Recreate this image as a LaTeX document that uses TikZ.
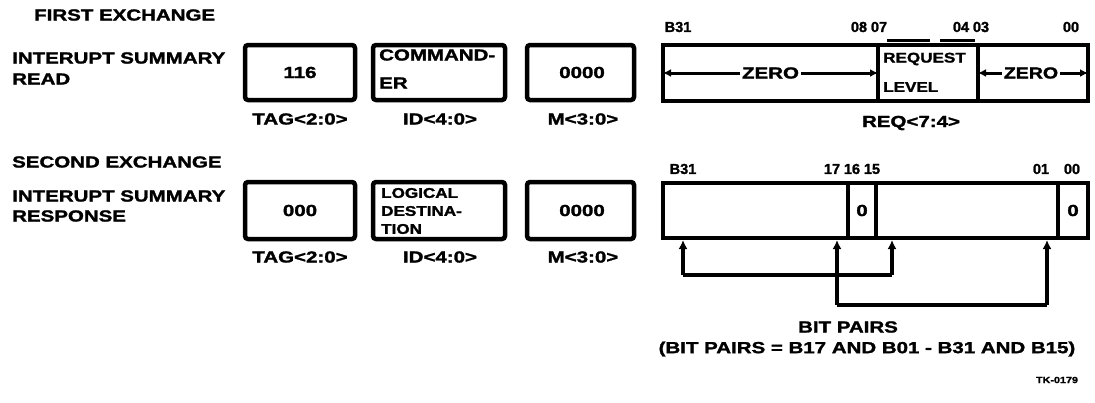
\documentclass[tikz,border=0pt]{standalone}
\usepackage{fontspec}
\setmainfont{Liberation Sans}
\newfontfamily\hv{Liberation Sans Bold}[FakeBold=1.5]
\usetikzlibrary{arrows.meta}
\newcommand\sx[1]{\scalebox{1.28}[1]{#1}}
\newcommand\sy[1]{\scalebox{1.22}[1]{#1}}
\newcommand\bigf{\hv\fontsize{16}{18}\selectfont}
\newcommand\midf{\hv\fontsize{14}{15}\selectfont}
\newcommand\smf{\hv\fontsize{14.5}{16}\selectfont}
\newcommand\tinyf{\hv\fontsize{9}{10}\selectfont}
\begin{document}
\begin{tikzpicture}[x=1pt,y=-1pt,
  txt/.style={inner sep=0pt, font=\bigf},
  mtxt/.style={inner sep=0pt, font=\midf, anchor=west},
  bitl/.style={inner sep=0pt, font=\smf},
  fbox/.style={draw, line width=4.5pt, rounded corners=3pt, inner sep=0pt},
  fld/.style={draw, line width=4pt, inner sep=0pt},
  conn/.style={line width=3.2pt},
  tip/.style={line width=3.2pt, -{Latex[length=9pt,width=9pt]}},
  zer/.style={line width=3pt, {Latex[length=8pt,width=8pt]}-{Latex[length=8pt,width=8pt]}, shorten <=2pt, shorten >=2pt},
]
\useasboundingbox (0,0) rectangle (1095,402);

% ---------- headings ----------
\node[txt, anchor=west] (h1) at (34,15) {\sx{FIRST EXCHANGE}};
\node[txt, anchor=west] (l1a) at (12,58) {\sx{INTERUPT SUMMARY}};
\node[txt, anchor=west] (l1b) at (12,79) {\sx{READ}};
\node[txt, anchor=west] (h2) at (12,162) {\sx{SECOND EXCHANGE}};
\node[txt, anchor=west] (l2a) at (12,196) {\sx{INTERUPT SUMMARY}};
\node[txt, anchor=west] (l2b) at (12,216) {\sx{RESPONSE}};

% ---------- row 1 small boxes ----------
\node[fbox, minimum width=110pt, minimum height=55pt] (a1) at (300,72.5) {};
\node[fbox, minimum width=132pt, minimum height=55pt] (a2) at (439,72.5) {};
\node[fbox, minimum width=107pt, minimum height=55pt] (a3) at (580.5,72.5) {};
\node[txt] (a1t) at (a1) {\sx{116}};
\node[txt, anchor=west] (a2t1) at (379,55) {\sx{COMMAND-}};
\node[txt, anchor=west] (a2t2) at (379,83) {\sx{ER}};
\node[txt] (a3t) at (582,72.5) {\sx{0000}};
\node[txt] (a1l) at (300,119) {\sx{TAG<2:0>}};
\node[txt] (a2l) at (440,119) {\sx{ID<4:0>}};
\node[txt] (a3l) at (583,119) {\sx{M<3:0>}};

% ---------- row 1 register ----------
\node[fld, minimum width=215pt, minimum height=56pt] (f1) at (770.5,73) {};
\node[fld, minimum width=100pt, minimum height=56pt] (f2) at (928,73) {};
\node[fld, minimum width=110pt, minimum height=56pt] (f3) at (1033,73) {};
\draw[line width=2.5pt] (887,40.5) -- (930,40.5);
\draw[line width=2.5pt] (940,40.5) -- (975,40.5);
\draw[zer] (f1.west) -- (f1.east);
\node[txt, fill=white, inner sep=2pt] (z1) at (f1) {\sx{ZERO}};
\draw[zer] (f3.west) -- (f3.east);
\node[txt, fill=white, inner sep=2pt] (z2) at (1031,73) {\sy{ZERO}};
\node[mtxt] (rq1) at (883,59) {\sy{REQUEST}};
\node[mtxt] (rq2) at (883,87) {\sy{LEVEL}};
\node[bitl] (b1a) at (678,27) {B31};
\node[bitl] (b1b) at (859,27) {08};
\node[bitl] (b1c) at (879,27) {07};
\node[bitl] (b1d) at (961,27) {04};
\node[bitl] (b1e) at (981,27) {03};
\node[bitl] (b1f) at (1071,27) {00};
\node[txt] (reql) at (911,123) {\sx{REQ<7:4>}};

% ---------- row 2 small boxes ----------
\node[fbox, minimum width=110pt, minimum height=57pt] (c1) at (300,210.5) {};
\node[fbox, minimum width=132pt, minimum height=57pt] (c2) at (439,210.5) {};
\node[fbox, minimum width=107pt, minimum height=57pt] (c3) at (580.5,210.5) {};
\node[txt] (c1t) at (c1) {\sx{000}};
\node[mtxt] (c2t1) at (381,193) {\sy{LOGICAL}};
\node[mtxt] (c2t2) at (381,211) {\sy{DESTINA-}};
\node[mtxt] (c2t3) at (381,229) {\sy{TION}};
\node[txt] (c3t) at (582,210.5) {\sx{0000}};
\node[txt] (c1l) at (300,257) {\sx{TAG<2:0>}};
\node[txt] (c2l) at (440,257) {\sx{ID<4:0>}};
\node[txt] (c3l) at (583,257) {\sx{M<3:0>}};

% ---------- row 2 register ----------
\node[fld, minimum width=185pt, minimum height=55pt] (g1) at (755.5,210.5) {};
\node[fld, minimum width=28pt, minimum height=55pt] (g2) at (862,210.5) {};
\node[fld, minimum width=182pt, minimum height=55pt] (g3) at (967,210.5) {};
\node[fld, minimum width=30pt, minimum height=55pt] (g4) at (1073,210.5) {};
\node[txt] (g2t) at (g2) {\sx{0}};
\node[txt] (g4t) at (g4) {\sx{0}};
\node[bitl] (b2a) at (683,169) {B31};
\node[bitl] (b2b) at (832,169) {17};
\node[bitl] (b2c) at (852,169) {16};
\node[bitl] (b2d) at (872,169) {15};
\node[bitl] (b2e) at (1041,169) {01};
\node[bitl] (b2f) at (1072,169) {00};

% ---------- bit pair connectors ----------
\coordinate (p1) at (683,275);
\coordinate (p2) at (892,275);
\coordinate (p3) at (837,305);
\coordinate (p4) at (1047,305);
\draw[tip] (p1) -- (p1 |- g1.south);
\draw[tip] (p2) -- (p2 |- g3.south);
\draw[tip] (p3) -- (p3 |- g1.south);
\draw[tip] (p4) -- (p4 |- g3.south);
\draw[conn] (p1) -- (p2);
\draw[conn] (p3) -- (p4);

\node[txt] (bp1) at (848,327) {\sx{BIT PAIRS}};
\node[txt] (bp2) at (867,349) {\sx{(BIT PAIRS = B17 AND B01 - B31 AND B15)}};
\node[inner sep=0pt, font=\tinyf] (tk) at (1057,380) {\scalebox{1.2}[1]{TK-0179}};
\end{tikzpicture}
\end{document}
